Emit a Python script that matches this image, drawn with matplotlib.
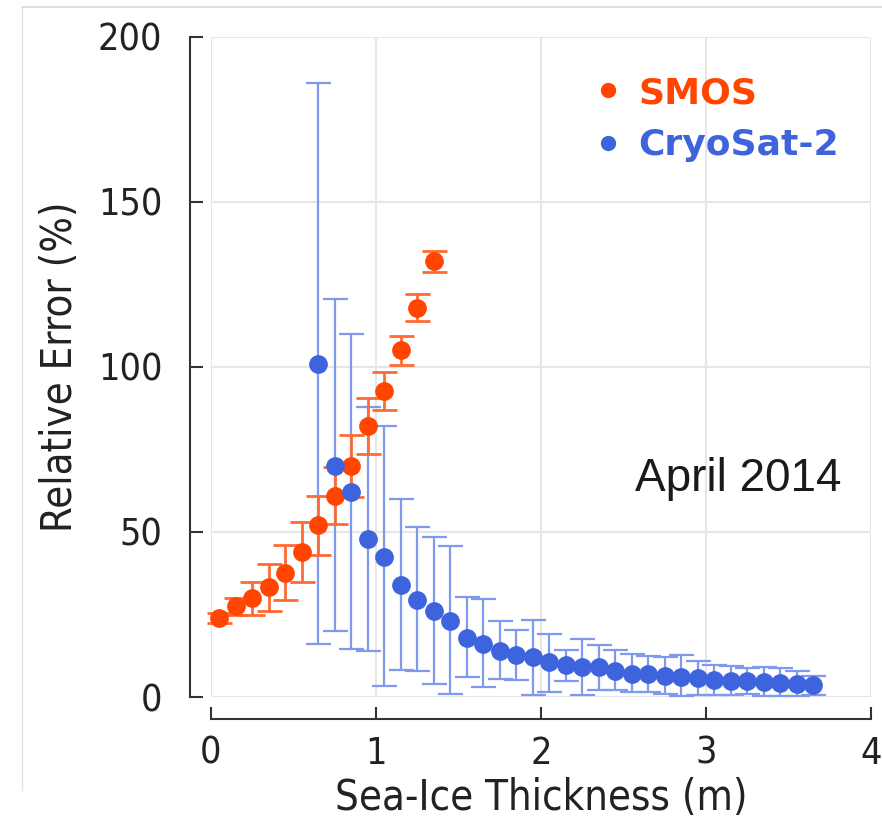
import matplotlib
matplotlib.use("Agg")
import matplotlib.pyplot as plt
from matplotlib.lines import Line2D
import numpy as np

# ---- data ----
smos_x = [0.05, 0.15, 0.25, 0.35, 0.45, 0.55, 0.65, 0.75, 0.85, 0.95, 1.05, 1.15, 1.25, 1.35]
smos_y = [24, 27.5, 30, 33.2, 37.7, 44, 52, 61, 70, 82, 92.7, 105, 118, 132]
smos_err = [1.5, 2.5, 5, 7, 8.3, 9, 9, 8.6, 9.4, 8.5, 5.8, 4.4, 4.2, 3.2]

cs_x = [0.65, 0.75, 0.85, 0.95, 1.05, 1.15, 1.25, 1.35, 1.45, 1.55, 1.65, 1.75, 1.85, 1.95,
        2.05, 2.15, 2.25, 2.35, 2.45, 2.55, 2.65, 2.75, 2.85, 2.95, 3.05, 3.15, 3.25, 3.35,
        3.45, 3.55, 3.65]
cs_y = [101, 70, 62, 48, 42.5, 34, 29.5, 26, 23, 18, 16, 14, 12.7, 12, 10.7, 9.7, 9.2, 9,
        8, 7, 7, 6.5, 6.2, 5.8, 5.2, 5, 4.8, 4.5, 4.2, 4, 3.5]
cs_upper = [186, 120.5, 110, 88, 82, 60, 51.5, 48.5, 45.8, 30.4, 29.6, 23, 20.4, 23.3, 19,
            14.2, 17.7, 15.8, 14.2, 13, 12.5, 12, 12.7, 11, 9.7, 9.5, 8.8, 9, 8.7, 8, 6.5]
cs_lower = [16, 20, 14.5, 14, 3.4, 8.2, 8, 3.8, 0.9, 6.2, 3.1, 5.4, 5.1, 0.6, 1.6, 5, 0.6,
            2, 2, 1.5, 1.5, 1, 0.2, 0.5, 0.7, 0.5, 0.8, 0.3, 0.2, 0.3, 0.5]

xticks = [0, 1, 2, 3, 4]
yticks = [0, 50, 100, 150, 200]
labels = ["SMOS", "CryoSat-2"]

SMOS_C = "#ff4500"
SMOS_EC = "#ff6a33"
CS_C = "#3d63dd"
CS_EC = "#7f9aec"

W, H = 882, 818
fig = plt.figure(figsize=(W / 100, H / 100), dpi=100)
ax = fig.add_axes([211 / W, 1 - 697 / H, 660 / W, 660 / H])

fig.add_artist(Line2D([22 / W, 1], [1 - 7 / H, 1 - 7 / H], color="#d8d8d8", lw=1.2, transform=fig.transFigure))
fig.add_artist(Line2D([22 / W, 22 / W], [1 - 7 / H, 1 - 790 / H], color="#e2e2e2", lw=1.0, transform=fig.transFigure))

cs_y_arr = np.array(cs_y)
cs_err = [cs_y_arr - np.array(cs_lower), np.array(cs_upper) - cs_y_arr]

ax.errorbar(cs_x, cs_y, yerr=cs_err, fmt="none", ecolor=CS_EC, elinewidth=1.6,
            capsize=9, capthick=1.6, clip_on=False, zorder=3)
ax.errorbar(smos_x, smos_y, yerr=smos_err, fmt="none", ecolor=SMOS_EC, elinewidth=2.0,
            capsize=9, capthick=2.0, clip_on=False, zorder=4)
ax.plot(smos_x, smos_y, "o", color=SMOS_C, ms=13.5, mec="none", clip_on=False, zorder=5)
ax.plot(cs_x, cs_y, "o", color=CS_C, ms=13.5, mec="none", clip_on=False, zorder=6)

ax.set_xlim(0, 4)
ax.set_ylim(0, 200)
ax.set_xticks(xticks)
ax.set_yticks(yticks)
ax.grid(True, color="#e6e6e6", lw=1.5)
ax.set_axisbelow(True)

for s in ["top", "right"]:
    ax.spines[s].set_visible(False)
ax.spines["left"].set_position(("outward", 15))
ax.spines["bottom"].set_position(("outward", 16))
for s in ["left", "bottom"]:
    ax.spines[s].set_color("#333333")
    ax.spines[s].set_linewidth(1.5)
ax.tick_params(direction="in", length=9, width=1.5, color="#333333", labelcolor="#222222")
ax.tick_params(axis="y", pad=20)
ax.tick_params(axis="x", pad=12)
for lab in ax.get_xticklabels() + ax.get_yticklabels():
    lab.set_fontsize(27)
    lab.set_fontstretch("condensed")
    lab.set_family("DejaVu Sans")

ax.set_xlabel("Sea-Ice Thickness (m)", fontsize=30, fontstretch="condensed",
              color="#222222", labelpad=4)
ax.set_ylabel("Relative Error (%)", fontsize=30, fontstretch="condensed",
              color="#222222", labelpad=12)

ax.text(2.57, 66, "April 2014", fontsize=33, family="Liberation Sans", va="center",
        ha="left", color="#1a1a1a")

handles = [Line2D([], [], ls="none", marker="o", color=SMOS_C, ms=10),
           Line2D([], [], ls="none", marker="o", color=CS_C, ms=10)]
leg = ax.legend(handles, labels, loc="upper left", bbox_to_anchor=(0.525, 0.99),
                frameon=False, handletextpad=0.35, labelspacing=0.5,
                prop={"weight": "bold", "size": 26}, handlelength=1.0)
for t, c in zip(leg.get_texts(), [SMOS_C, CS_C]):
    t.set_color(c)

fig.savefig("out.png", dpi=100)
